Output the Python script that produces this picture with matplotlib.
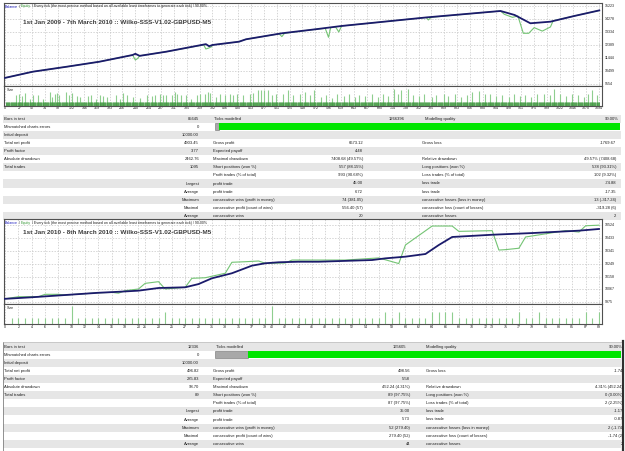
import numpy as np
import matplotlib.pyplot as plt
from matplotlib.patches import Rectangle

W, H = 625, 451
plt.rcParams['font.family'] = ['Liberation Sans', 'DejaVu Sans']

# ---------------- chart 1 (2009 - 2010) ----------------
bal1_t = [0, 51, 114, 174, 235, 240, 248, 297, 370, 376, 382, 431, 444, 510, 572, 620, 779, 913, 939, 968, 1005, 1049, 1095]
bal1_v = [10000, 10448, 10812, 11175, 11662, 11750, 11600, 11902, 12450, 12300, 12389, 12629, 12804, 13240, 13531, 13771, 14403, 14861, 14570, 13967, 14083, 14498, 14903]
eq1_t = [0, 51, 114, 174, 235, 240, 244, 248, 297, 366, 370, 374, 380, 382, 431, 444, 505, 510, 515, 572, 590, 596, 600, 609, 615, 620, 776, 780, 785, 913, 920, 935, 945, 955, 965, 975, 990, 1000, 1005, 1010, 1049, 1095]
eq1_v = [10000, 10448, 10812, 11175, 11662, 11300, 11400, 11600, 11902, 12400, 12100, 12150, 12250, 12389, 12629, 12804, 13200, 13000, 13240, 13531, 13600, 12950, 13650, 13700, 13335, 13771, 14390, 14207, 14403, 14861, 14620, 14400, 14500, 13240, 13240, 13650, 13400, 13600, 13700, 14150, 14498, 14903]
ylab1 = [9554, 10499, 11444, 12389, 13334, 14278, 15223]
xlab1 = [0, 27, 50, 74, 98, 122, 146, 169, 193, 216, 240, 264, 287, 311, 335, 359, 382, 406,
         430, 453, 477, 501, 525, 548, 572, 596, 619, 643, 667, 690, 714, 738, 762, 785, 809,
         833, 856, 880, 904, 928, 951, 975, 999, 1022, 1046, 1070, 1094]
n_trades1 = 1095
base_lot1 = 0.2
spike1_t = [20, 26, 31, 37, 46, 52, 61, 69, 83, 87, 92, 96, 100, 112, 117, 123, 132, 138, 153, 159,
            168, 175, 181, 187, 205, 211, 218, 224, 236, 248, 261, 270, 276, 285, 291, 297, 307, 313,
            316, 325, 334, 343, 353, 359, 368, 374, 377, 389, 396, 405, 414, 420, 427, 438, 451, 457,
            466, 472, 478, 485, 491, 500, 512, 521, 530, 543, 552, 561, 570,
            582, 591, 603, 611, 624, 633, 645, 652, 664, 676, 688, 697, 705, 717, 724, 730, 742, 751,
            763, 772, 786, 795, 808, 817, 829, 840, 852, 861, 873, 884, 893, 905, 916, 928, 937, 949,
            958, 970, 981, 993, 1004, 1011, 1022, 1033, 1045, 1056, 1067, 1075, 1081, 1090]
spike1_v = [0.52, 0.6, 0.47, 0.63, 0.35, 0.52, 0.52, 0.35, 0.68, 0.44, 0.56, 0.63, 0.52, 0.68, 0.52, 0.63,
            0.47, 0.44, 0.47, 0.52, 0.35, 0.52, 0.47, 0.44, 0.55, 0.35, 0.63, 0.52, 0.44, 0.4, 0.52, 0.47,
            0.52, 0.6, 0.52, 0.52, 0.52, 0.68, 0.6, 0.52, 0.52, 0.35, 0.52, 0.6, 0.56, 0.68, 0.63, 0.44,
            0.56, 0.52, 0.6, 0.52, 0.56, 0.52, 0.56, 0.63, 0.79, 0.79, 0.79, 0.76, 0.52, 0.56, 0.56, 0.79,
            0.52, 0.56, 0.68, 0.52, 0.76,
            0.45, 0.52, 0.4, 0.56, 0.48, 0.6, 0.44, 0.52, 0.48, 0.56, 0.44, 0.6, 0.5, 0.82, 0.6, 0.8, 0.82, 0.52,
            0.48, 0.56, 0.44, 0.52, 0.6, 0.48, 0.56, 0.44, 0.52, 0.68, 0.72, 0.56, 0.6, 0.48, 0.52, 0.44, 0.56, 0.48,
            0.52, 0.44, 0.56, 0.6, 0.52, 0.82, 0.56, 0.48, 0.6, 0.52, 0.44, 0.56, 0.8, 0.52]

# ---------------- chart 2 (2010) ----------------
bal2_t = [0, 4, 9, 14, 17, 20, 23, 27, 29, 31, 34, 37, 39, 41, 44, 47, 55, 57, 60, 63, 65, 67, 73, 79, 86, 89]
bal2_v = [10000, 10011, 10027, 10043, 10050, 10058, 10077, 10082, 10105, 10146, 10182, 10236, 10253, 10260,
          10264, 10264, 10276, 10288, 10300, 10319, 10383, 10440, 10456, 10468, 10485, 10497]
eq2_t = [0, 2, 5, 6, 8, 9, 14, 16, 17, 18, 20, 21, 23, 24, 27, 28, 30, 33, 34, 36, 38, 39, 42, 43, 44,
         50, 51, 56, 59, 60, 64, 67, 68, 73, 74, 75, 77, 78, 80, 82, 84, 86, 87, 89]
eq2_v = [10000, 10015, 10015, 10032, 10032, 10027, 10043, 10046, 10040, 10058, 10070, 10110, 10122, 10070,
         10082, 10146, 10150, 10182, 10260, 10264, 10269, 10253, 10255, 10276, 10276, 10276, 10276, 10291,
         10251, 10383, 10518, 10518, 10480, 10485, 10347, 10350, 10360, 10440, 10455, 10470, 10485, 10475,
         10520, 10524]
ylab2 = [9975, 10067, 10158, 10249, 10341, 10433, 10524]
xlab2 = [0, 2, 4, 6, 8, 10, 12, 14, 16, 18, 20, 21, 23, 25, 27, 29, 31, 33, 35, 37, 39, 40, 42, 44, 46,
         48, 50, 52, 54, 56, 58, 60, 62, 64, 66, 68, 70, 72, 73, 75, 77, 79, 81, 83, 85, 87, 89]
lots2 = [0.1, 0.1, 0.1, 0.1, 0.1, 0.1, 0.1, 0.1, 0.1, 0.3, 0.1, 0.1, 0.1, 0.1, 0.1, 0.1, 0.1, 0.1, 0.1, 0.1,
         0.1, 0.1, 0.1, 0.2, 0.1, 0.1, 0.1, 0.1, 0.1, 0.1, 0.1, 0.1, 0.1, 0.1, 0.1, 0.1, 0.1, 0.1, 0.1, 0.3,
         0.1, 0.1, 0.1, 0.1, 0.1, 0.1, 0.1, 0.1, 0.1, 0.1, 0.1, 0.1, 0.1, 0.1, 0.1, 0.1, 0.2, 0.1, 0.2, 0.1,
         0.1, 0.1, 0.1, 0.2, 0.2, 0.2, 0.2, 0.1, 0.1, 0.1, 0.1, 0.1, 0.1, 0.1, 0.1, 0.1, 0.2, 0.1, 0.1, 0.2,
         0.1, 0.1, 0.1, 0.1, 0.1, 0.1, 0.2, 0.1, 0.2]

# ---------------- report tables ----------------
rows1 = [
    ["Bars in test", "85645", "Ticks modelled", "1266396", "Modelling quality", "90.00%"],
    ["Mismatched charts errors", "0", "", "", "", ""],
    ["Initial deposit", "10000.00", "", "", "", ""],
    ["Total net profit", "4903.45", "Gross profit", "6673.12", "Gross loss", "-1769.67"],
    ["Profit factor", "3.77", "Expected payoff", "4.48", "", ""],
    ["Absolute drawdown", "2462.76", "Maximal drawdown", "7408.68 (49.57%)", "Relative drawdown", "49.57% (7408.68)"],
    ["Total trades", "1095", "Short positions (won %)", "557 (88.15%)", "Long positions (won %)", "538 (93.31%)"],
    ["", "", "Profit trades (% of total)", "993 (90.68%)", "Loss trades (% of total)", "102 (9.32%)"],
    ["", "Largest", "profit trade", "45.00", "loss trade", "-74.88"],
    ["", "Average", "profit trade", "6.72", "loss trade", "-17.35"],
    ["", "Maximum", "consecutive wins (profit in money)", "74 (381.05)", "consecutive losses (loss in money)", "13 (-317.24)"],
    ["", "Maximal", "consecutive profit (count of wins)", "556.40 (57)", "consecutive loss (count of losses)", "-319.28 (6)"],
    ["", "Average", "consecutive wins", "20", "consecutive losses", "2"],
]
rows2 = [
    ["Bars in test", "12336", "Ticks modelled", "165605", "Modelling quality", "90.00%"],
    ["Mismatched charts errors", "0", "", "", "", ""],
    ["Initial deposit", "10000.00", "", "", "", ""],
    ["Total net profit", "496.82", "Gross profit", "498.56", "Gross loss", "-1.74"],
    ["Profit factor", "285.83", "Expected payoff", "5.58", "", ""],
    ["Absolute drawdown", "98.70", "Maximal drawdown", "452.24 (4.31%)", "Relative drawdown", "4.31% (452.24)"],
    ["Total trades", "89", "Short positions (won %)", "89 (97.75%)", "Long positions (won %)", "0 (0.00%)"],
    ["", "", "Profit trades (% of total)", "87 (97.75%)", "Loss trades (% of total)", "2 (2.25%)"],
    ["", "Largest", "profit trade", "35.00", "loss trade", "-1.17"],
    ["", "Average", "profit trade", "5.73", "loss trade", "-0.87"],
    ["", "Maximum", "consecutive wins (profit in money)", "52 (279.40)", "consecutive losses (loss in money)", "2 (-1.74)"],
    ["", "Maximal", "consecutive profit (count of wins)", "279.40 (52)", "consecutive loss (count of losses)", "-1.74 (2)"],
    ["", "Average", "consecutive wins", "44", "consecutive losses", "2"],
]

HEADER = "Every tick (the most precise method based on all available least timeframes to generate each tick) / 90.00%"
BLUE = '#1b1b6b'
GREEN = '#74c474'
GRID = '#c4c4c4'
FS_SMALL = 2.6
FS_TAB = 3.0

fig = plt.figure(figsize=(W / 100, H / 100), dpi=100)
fig.patch.set_facecolor('white')

# pixel canvas for tables/text (y grows downwards)
cv = fig.add_axes([0, 0, 1, 1], zorder=0)
cv.set_xlim(0, W)
cv.set_ylim(H, 0)
cv.axis('off')


def px_axes(x0, y0, x1, y1):
    ax = fig.add_axes([x0 / W, 1 - y1 / H, (x1 - x0) / W, (y1 - y0) / H], zorder=2)
    ax.set_facecolor('white')
    for s in ax.spines.values():
        s.set_color('#505050')
        s.set_linewidth(0.8)
    ax.set_xticks([])
    ax.set_yticks([])
    return ax


def header(x, y):
    # "Balance / Equity / Every tick ..." written piece by piece
    r = fig.canvas.get_renderer()
    xf = x / W
    for s, c in [("Balance", '#2020c0'), (" / ", '#202020'), ("Equity", '#3a9a3a'), (" / " + HEADER, '#202020')]:
        t = fig.text(xf, 1 - y / H, s, fontsize=FS_SMALL, color=c, va='center', ha='left', zorder=5)
        xf = t.get_window_extent(r).x1 / W


def draw_chart(top, sep, bot, xlim, ylim, xlab, ylab, bt, bv, et, ev, title, title_y):
    ax = px_axes(4, top, 602, sep)
    ax.set_xlim(*xlim)
    ax.set_ylim(*ylim)
    for x in xlab:
        ax.axvline(x, color=GRID, lw=0.5, ls=(0, (2, 2)), zorder=0)
    for y in ylab:
        ax.axhline(y, color=GRID, lw=0.5, ls=(0, (2, 2)), zorder=0)
    ax.plot(et, ev, color=GREEN, lw=0.8, zorder=2)
    ax.plot(bt, bv, color=BLUE, lw=1.3, zorder=3)
    for y in ylab:
        yp = top + (ylim[1] - y) / (ylim[1] - ylim[0]) * (sep - top)
        cv.text(605, yp, str(y), fontsize=FS_SMALL, va='center', ha='left', color='#202020')
    sx = px_axes(4, sep, 602, bot)
    sx.set_xlim(*xlim)
    for x in xlab:
        sx.axvline(x, color=GRID, lw=0.5, ls=(0, (2, 2)), zorder=0)
        xp = 4 + (x - xlim[0]) / (xlim[1] - xlim[0]) * 598
        cv.text(xp, bot + 2.6, str(x), fontsize=FS_SMALL, va='center', ha='center', color='#202020')
    sx.text(0.004, 0.9, "Size", transform=sx.transAxes, fontsize=FS_SMALL, va='top', color='#202020')
    fig.canvas.draw()
    header(5, top + 3.5)
    fig.text(23 / W, 1 - title_y / H, title, fontsize=4.6, fontweight='bold',
             color='#3c3c3c', va='center', zorder=5)
    return ax, sx


ax1, sx1 = draw_chart(3, 85.5, 105.7, (-2, 1100), (9445, 15441), xlab1, ylab1,
                      bal1_t, bal1_v, eq1_t, eq1_v,
                      "1st Jan 2009 - 7th March 2010 :: Wilko-SSS-V1.02-GBPUSD-M5", 23)
sx1.set_ylim(0, 1.0)
sx1.vlines(spike1_t, 0, spike1_v, color='#8fce8f', lw=0.8)
sx1.vlines(np.arange(1, n_trades1 + 1), 0, base_lot1, color='#3d963d', lw=0.45)

ax2, sx2 = draw_chart(219, 304.3, 324.3, (-0.15, 89.45), (9961, 10568), xlab2, ylab2,
                      bal2_t, bal2_v, eq2_t, eq2_v,
                      "1st Jan 2010 - 8th March 2010 :: Wilko-SSS-V1.02-GBPUSD-M5", 232)
sx2.set_ylim(0, 0.32)
sx2.vlines(np.arange(1, len(lots2) + 1), 0, lots2, color='#8fce8f', lw=0.8)


def draw_table(rows, y_first, step, cols, bar):
    # cols: positions (label1, val1 right, label2, val2 right, label3, val3 right) for rows 1-3 and the rest
    for i, row in enumerate(rows):
        yc = y_first + i * step
        if i % 2 == 0:
            cv.add_patch(Rectangle((3, yc - step / 2), 618, step, color='#e6e6e6', lw=0, zorder=0))
        c = cols[0] if i < 3 else cols[1]
        for j, s in enumerate(row):
            if not s:
                continue
            ha = 'right' if j % 2 == 1 else 'left'
            cv.text(c[j], yc, s, fontsize=FS_TAB, va='center', ha=ha, color='#1e1e1e')
    yb = y_first + step
    g0, g1, g2 = bar
    cv.add_patch(Rectangle((g0, yb - 3.4), g1 - g0, 6.8, facecolor='#a8a8a8', edgecolor='#707070', lw=0.4))
    cv.add_patch(Rectangle((g1, yb - 3.4), g2 - g1, 6.8, facecolor='#00e600', lw=0))


draw_table(rows1, 118.7, 8.1,
           [(4, 199, 214, 405, 425, 619), (4, 199, 213, 363, 422, 616)],
           (214.5, 218.5, 620))
draw_table(rows2, 346.6, 8.1,
           [(4, 199, 216, 406, 426, 623), (4, 199, 213, 410, 426, 623)],
           (215, 248, 621))
cv.plot([3, 3], [342, 451], color='#808080', lw=0.6)
cv.plot([3, 621], [342, 342], color='#b0b0b0', lw=0.5)
cv.plot([622.5, 622.5], [341, 451], color='#303030', lw=1.6)

fig.savefig('out.png', dpi=100)
